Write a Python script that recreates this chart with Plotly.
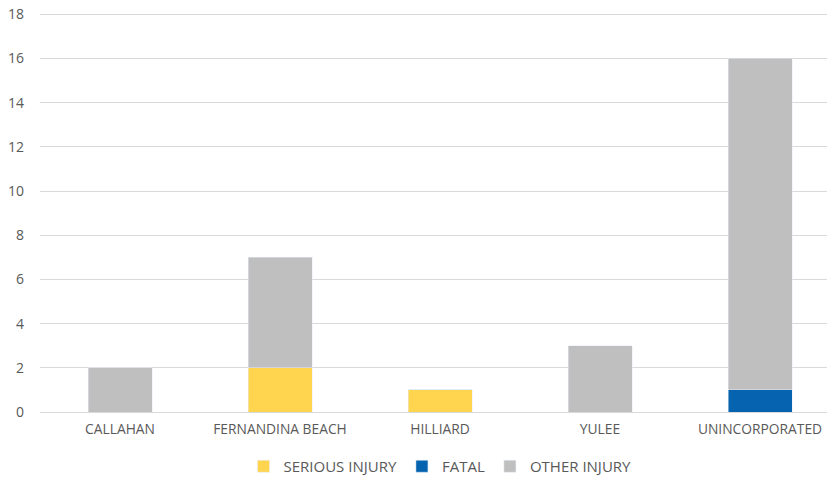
import plotly.graph_objects as go

categories = ["CALLAHAN", "FERNANDINA BEACH", "HILLIARD", "YULEE", "UNINCORPORATED"]
serious = [0, 2, 1, 0, 0]
fatal = [0, 0, 0, 0, 1]
other = [2, 5, 0, 3, 15]
y_ticks = [0, 2, 4, 6, 8, 10, 12, 14, 16, 18]

fig = go.Figure()
fig.add_bar(x=categories, y=serious, name="SERIOUS INJURY", marker_color="#FFD44F")
fig.add_bar(x=categories, y=fatal, name="FATAL", marker_color="#0563B0")
fig.add_bar(x=categories, y=other, name="OTHER INJURY", marker_color="#BFBFBF")

font = dict(family="Open Sans, Liberation Sans, sans-serif", size=14, color="#595959")
fig.update_layout(
    barmode="stack",
    bargap=0.6,
    width=835, height=478,
    margin=dict(l=32, r=3, t=4, b=74),
    plot_bgcolor="white", paper_bgcolor="white",
    font=font,
    showlegend=True,
    legend=dict(orientation="h", x=0.5, xanchor="center", y=-0.095, yanchor="top",
                font=dict(size=15, color="#595959"), traceorder="normal",
                itemwidth=30, tracegroupgap=0),
    xaxis=dict(range=[-0.5, 4.5], showgrid=False, showline=True, linecolor="#D9D9D9",
               linewidth=1, ticks="outside", ticklen=4, tickcolor="rgba(0,0,0,0)",
               tickfont=dict(size=13.8), automargin=False),
    yaxis=dict(range=[0, 18.1], tickvals=y_ticks, showgrid=True, gridcolor="#D9D9D9",
               gridwidth=1, zeroline=False, ticks="", tickfont=dict(size=14),
               ticklabelstandoff=15, ticklabeloverflow="allow", automargin=False),
)
fig.write_html("out.html")
